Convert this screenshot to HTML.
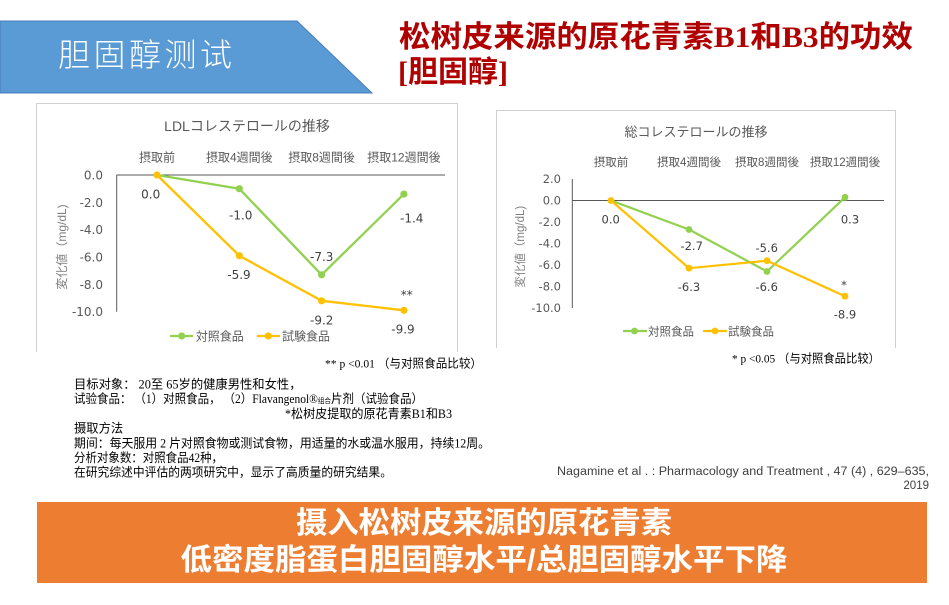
<!DOCTYPE html>
<html><head><meta charset="utf-8"><style>
html,body{margin:0;padding:0;background:#fff;}
svg{display:block;}
.jp{font-family:"Liberation Sans","Noto Sans CJK JP",sans-serif;}
.num{font-family:"DejaVu Sans","Liberation Sans",sans-serif;}
.sc{font-family:"Liberation Serif","Noto Sans CJK SC",serif;}
</style></head><body>
<svg width="949" height="605" viewBox="0 0 949 605" xmlns="http://www.w3.org/2000/svg">
<!-- banner -->
<polygon points="0,21 297,21 372,93 0,93" fill="#5B9BD5" stroke="#4A7EBB" stroke-width="1"/>
<text x="58" y="66" font-size="32" fill="#fff" textLength="174" lengthAdjust="spacing" style="font-family:'Noto Sans CJK SC',sans-serif;font-weight:300">胆固醇测试</text>
<!-- red title -->
<text x="399" y="47" font-size="30" fill="#B00000" font-weight="bold" textLength="514" lengthAdjust="spacingAndGlyphs" style="font-family:'Liberation Serif','Noto Sans CJK SC',serif">松树皮来源的原花青素B1和B3的功效</text>
<text x="398" y="82" font-size="30" fill="#B00000" font-weight="bold" style="font-family:'Liberation Serif','Noto Sans CJK SC',serif">[胆固醇]</text>

<!-- LDL chart box -->
<polyline points="36.5,352 36.5,103.5 457.5,103.5 457.5,352" fill="none" stroke="#D0D0D0" stroke-width="1"/>
<text x="247" y="131" font-size="14" fill="#595959" text-anchor="middle" class="jp">LDLコレステロールの推移</text>
<g font-size="12" fill="#595959" text-anchor="middle" class="jp">
<text x="157" y="161.5">摂取前</text>
<text x="239.3" y="161.5">摂取4週間後</text>
<text x="321.6" y="161.5">摂取8週間後</text>
<text x="403.9" y="161.5">摂取12週間後</text>
</g>
<g font-size="12" fill="#595959" text-anchor="end" class="num">
<text x="103" y="179.5">0.0</text>
<text x="103" y="206.8">-2.0</text>
<text x="103" y="234.2">-4.0</text>
<text x="103" y="261.5">-6.0</text>
<text x="103" y="288.8">-8.0</text>
<text x="103" y="316.2">-10.0</text>
</g>
<text transform="translate(66,247) rotate(-90)" font-size="12" fill="#808080" text-anchor="middle" class="jp">変化値（mg/dL)</text>
<line x1="116.7" y1="175" x2="116.7" y2="311.7" stroke="#595959" stroke-width="1"/>
<line x1="116.7" y1="175" x2="445" y2="175" stroke="#595959" stroke-width="1"/>
<polyline points="157,175 239.3,188.7 321.6,274.8 403.9,194.1" fill="none" stroke="#92D050" stroke-width="2.3" stroke-linejoin="round"/>
<g fill="#92D050"><circle cx="239.3" cy="188.7" r="3.6"/><circle cx="321.6" cy="274.8" r="3.6"/><circle cx="403.9" cy="194.1" r="3.6"/></g>
<polyline points="157,175 239.3,255.7 321.6,300.8 403.9,310.3" fill="none" stroke="#FFC000" stroke-width="2.3" stroke-linejoin="round"/>
<g fill="#FFC000"><circle cx="157" cy="175" r="3.6"/><circle cx="239.3" cy="255.7" r="3.6"/><circle cx="321.6" cy="300.8" r="3.6"/><circle cx="403.9" cy="310.3" r="3.6"/></g>
<g font-size="12" fill="#404040" text-anchor="middle" class="num">
<text x="150.7" y="198.5">0.0</text>
<text x="240.7" y="219.5">-1.0</text>
<text x="321.7" y="261">-7.3</text>
<text x="411.7" y="222.5">-1.4</text>
<text x="239" y="279">-5.9</text>
<text x="321.7" y="324.5">-9.2</text>
<text x="403" y="333.5">-9.9</text>
<text x="406.7" y="299">**</text>
</g>
<line x1="170" y1="336" x2="193" y2="336" stroke="#92D050" stroke-width="2.3"/>
<circle cx="181.7" cy="336" r="3.6" fill="#92D050"/>
<text x="195.7" y="340.5" font-size="12" fill="#595959" class="jp">対照食品</text>
<line x1="256.7" y1="336" x2="280" y2="336" stroke="#FFC000" stroke-width="2.3"/>
<circle cx="268.3" cy="336" r="3.6" fill="#FFC000"/>
<text x="282" y="340.5" font-size="12" fill="#595959" class="jp">試験食品</text>

<!-- total chol chart box -->
<polyline points="496.5,348 496.5,110.5 895.5,110.5 895.5,348" fill="none" stroke="#D0D0D0" stroke-width="1"/>
<text x="696" y="136.5" font-size="13" fill="#595959" text-anchor="middle" class="jp">総コレステロールの推移</text>
<g font-size="11.5" fill="#595959" text-anchor="middle" class="jp">
<text x="611" y="166">摂取前</text>
<text x="689" y="166">摂取4週間後</text>
<text x="767" y="166">摂取8週間後</text>
<text x="845" y="166">摂取12週間後</text>
</g>
<g font-size="11.5" fill="#595959" text-anchor="end" class="num">
<text x="561" y="183.2">2.0</text>
<text x="561" y="204.7">0.0</text>
<text x="561" y="226.2">-2.0</text>
<text x="561" y="247.7">-4.0</text>
<text x="561" y="269.2">-6.0</text>
<text x="561" y="290.7">-8.0</text>
<text x="561" y="312.2">-10.0</text>
</g>
<text transform="translate(524,246.7) rotate(-90)" font-size="11.5" fill="#808080" text-anchor="middle" class="jp">変化値（mg/dL)</text>
<line x1="572.3" y1="179" x2="572.3" y2="308" stroke="#595959" stroke-width="1"/>
<line x1="572.3" y1="200.5" x2="884" y2="200.5" stroke="#595959" stroke-width="1"/>
<polyline points="611,200.5 689,229.5 767,271.5 845,197.3" fill="none" stroke="#92D050" stroke-width="2.2" stroke-linejoin="round"/>
<g fill="#92D050"><circle cx="689" cy="229.5" r="3.4"/><circle cx="767" cy="271.5" r="3.4"/><circle cx="845" cy="197.3" r="3.4"/></g>
<polyline points="611,200.5 689,268.2 767,260.7 845,296.2" fill="none" stroke="#FFC000" stroke-width="2.2" stroke-linejoin="round"/>
<g fill="#FFC000"><circle cx="611" cy="200.5" r="3.4"/><circle cx="689" cy="268.2" r="3.4"/><circle cx="767" cy="260.7" r="3.4"/><circle cx="845" cy="296.2" r="3.4"/></g>
<g font-size="11.5" fill="#404040" text-anchor="middle" class="num">
<text x="610.7" y="223.5">0.0</text>
<text x="691.7" y="250">-2.7</text>
<text x="689" y="291">-6.3</text>
<text x="766.7" y="252">-5.6</text>
<text x="766.7" y="291">-6.6</text>
<text x="850" y="223.5">0.3</text>
<text x="845" y="318.5">-8.9</text>
<text x="844" y="289">*</text>
</g>
<line x1="623" y1="331" x2="647" y2="331" stroke="#92D050" stroke-width="2.2"/>
<circle cx="634.5" cy="331" r="3.4" fill="#92D050"/>
<text x="648" y="335.3" font-size="11.5" fill="#595959" class="jp">対照食品</text>
<line x1="703" y1="331" x2="727" y2="331" stroke="#FFC000" stroke-width="2.2"/>
<circle cx="715" cy="331" r="3.4" fill="#FFC000"/>
<text x="728" y="335.3" font-size="11.5" fill="#595959" class="jp">試験食品</text>

<!-- footnotes -->
<text x="325" y="367.5" font-size="12" fill="#000" class="sc" textLength="157" lengthAdjust="spacingAndGlyphs">** p &lt;0.01 （与对照食品比较）</text>
<text x="732" y="362.5" font-size="12" fill="#000" class="sc" textLength="148" lengthAdjust="spacingAndGlyphs">* p &lt;0.05 （与对照食品比较）</text>

<!-- text block -->
<g font-size="12.3" fill="#000" class="sc">
<text x="74" y="388.5">目标对象： 20至 65岁的健康男性和女性，</text>
<text x="74" y="403.2" textLength="349" lengthAdjust="spacingAndGlyphs">试验食品： （1）对照食品， （2）Flavangenol®<tspan font-size="7">组合</tspan>片剂（试验食品）</text>
<text x="285" y="417.9" textLength="167" lengthAdjust="spacingAndGlyphs">*松树皮提取的原花青素B1和B3</text>
<text x="74" y="432.6">摄取方法</text>
<text x="74" y="447.3" textLength="416" lengthAdjust="spacingAndGlyphs">期间：每天服用 2 片对照食物或测试食物，用适量的水或温水服用，持续12周。</text>
<text x="74" y="462" textLength="149" lengthAdjust="spacingAndGlyphs">分析对象数：对照食品42种，</text>
<text x="74" y="476.7" textLength="318" lengthAdjust="spacingAndGlyphs">在研究综述中评估的两项研究中，显示了高质量的研究结果。</text>
</g>

<!-- citation -->
<text x="557" y="475" font-size="11.5" fill="#404040" textLength="372" lengthAdjust="spacingAndGlyphs" style="font-family:'Liberation Sans',sans-serif">Nagamine et al . : Pharmacology and Treatment , 47 (4) , 629–635,</text>
<text x="929" y="489" font-size="11.5" fill="#404040" text-anchor="end" style="font-family:'Liberation Sans',sans-serif">2019</text>

<!-- orange box -->
<rect x="37" y="502" width="890" height="81" fill="#ED7D31"/>
<g font-size="30" fill="#fff" font-weight="bold" text-anchor="middle" style="font-family:'Liberation Sans','Noto Sans CJK SC',sans-serif">
<text x="484" y="533" textLength="376" lengthAdjust="spacingAndGlyphs">摄入松树皮来源的原花青素</text>
<text x="484" y="570" textLength="607" lengthAdjust="spacingAndGlyphs">低密度脂蛋白胆固醇水平/总胆固醇水平下降</text>
</g>
</svg>
</body></html>
